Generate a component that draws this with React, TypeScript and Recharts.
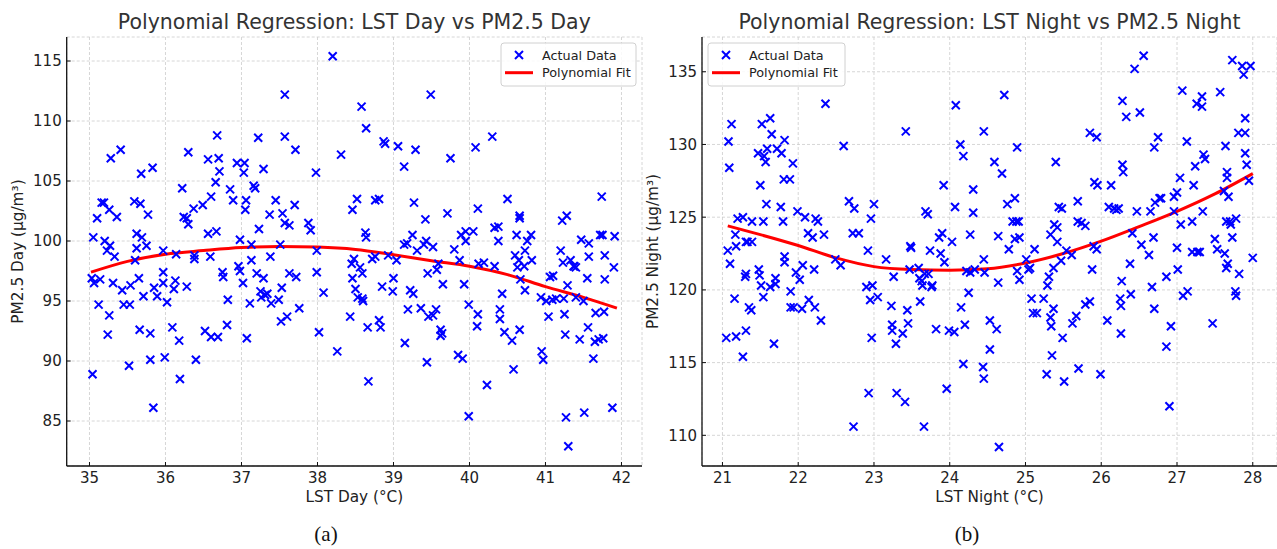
import { ComposedChart, Scatter, Line, XAxis, YAxis, CartesianGrid } from 'recharts';

const FONT = '"DejaVu Sans", Verdana, sans-serif';

// LST Day (°C) vs PM2.5 Day (µg/m³)
const dayPoints: [number, number][] = [
  [35.04, 88.9], [35.05, 100.3], [35.03, 96.9], [35.06, 96.5], [35.1, 101.9], [35.12, 94.7], [35.14, 96.8],
  [35.16, 103.2], [35.19, 103.2], [35.2, 100.0], [35.23, 99.2], [35.24, 92.2], [35.26, 102.6], [35.26, 93.8],
  [35.28, 106.9], [35.27, 99.6], [35.31, 96.5], [35.33, 98.7], [35.36, 102.0], [35.41, 107.6], [35.43, 95.9],
  [35.45, 94.7], [35.52, 89.6], [35.53, 94.7], [35.54, 96.3], [35.59, 103.3], [35.6, 98.4], [35.62, 100.6],
  [35.62, 99.4], [35.65, 96.9], [35.67, 103.1], [35.68, 105.6], [35.66, 92.6], [35.69, 100.3], [35.71, 95.4],
  [35.75, 99.6], [35.77, 102.2], [35.8, 90.1], [35.8, 92.3], [35.83, 106.1], [35.84, 86.1], [35.85, 96.1],
  [35.89, 95.4], [35.97, 97.4], [35.97, 99.2], [35.97, 96.5], [35.99, 90.3], [36.02, 94.9], [36.09, 92.8],
  [36.11, 96.0], [36.13, 96.7], [36.14, 98.9], [36.18, 91.7], [36.19, 88.5], [36.22, 104.4], [36.24, 102.0],
  [36.28, 96.2], [36.28, 101.9], [36.3, 107.4], [36.3, 101.4], [36.37, 102.7], [36.38, 98.5], [36.4, 90.1],
  [36.38, 98.8], [36.49, 103.0], [36.52, 92.5], [36.56, 106.8], [36.56, 100.6], [36.59, 98.7], [36.6, 103.7],
  [36.6, 92.0], [36.66, 104.9], [36.67, 100.8], [36.68, 108.8], [36.69, 92.0], [36.7, 106.9], [36.71, 105.8],
  [36.75, 97.4], [36.76, 97.0], [36.81, 93.0], [36.82, 95.1], [36.85, 104.3], [36.89, 103.4], [36.94, 106.5],
  [36.96, 97.9], [36.98, 100.1], [36.98, 97.5], [37.02, 96.5], [37.03, 105.7], [37.04, 106.5], [37.05, 102.6],
  [37.06, 103.4], [37.07, 91.9], [37.11, 94.8], [37.13, 99.7], [37.13, 98.4], [37.16, 104.6], [37.18, 104.4],
  [37.2, 97.3], [37.22, 108.6], [37.23, 101.0], [37.25, 95.8], [37.26, 95.3], [37.29, 106.0], [37.29, 96.9],
  [37.31, 95.5], [37.34, 95.6], [37.37, 102.2], [37.38, 98.7], [37.39, 94.8], [37.45, 103.4], [37.49, 95.1],
  [37.51, 99.7], [37.52, 93.3], [37.53, 96.1], [37.54, 102.3], [37.57, 112.2], [37.57, 108.7], [37.57, 101.5],
  [37.6, 93.7], [37.63, 101.3], [37.63, 97.3], [37.7, 103.0], [37.71, 107.6], [37.72, 97.0], [37.76, 94.4],
  [37.88, 101.5], [37.91, 100.9], [37.98, 105.7], [37.99, 99.2], [37.99, 97.4], [38.02, 92.4], [38.08, 95.7],
  [38.2, 115.4], [38.26, 90.8], [38.31, 107.2], [38.43, 93.7], [38.45, 98.1], [38.46, 102.6], [38.46, 96.9],
  [38.48, 98.5], [38.5, 96.0], [38.52, 103.5], [38.53, 95.3], [38.56, 97.8], [38.58, 111.2], [38.59, 97.3],
  [38.59, 95.2], [38.6, 95.0], [38.63, 100.7], [38.64, 109.4], [38.64, 100.3], [38.66, 92.8], [38.67, 88.3],
  [38.72, 98.5], [38.76, 103.4], [38.76, 98.7], [38.81, 103.5], [38.81, 93.4], [38.83, 92.8], [38.85, 96.2],
  [38.87, 108.3], [38.89, 108.1], [38.93, 98.8], [38.99, 95.8], [39.0, 96.9], [39.04, 98.4], [39.06, 107.9],
  [39.14, 106.2], [39.15, 91.5], [39.14, 99.7], [39.18, 99.8], [39.19, 94.3], [39.22, 95.9], [39.26, 95.6],
  [39.27, 103.2], [39.25, 100.5], [39.29, 107.6], [39.31, 99.2], [39.36, 94.4], [39.4, 99.7], [39.42, 101.8],
  [39.43, 100.0], [39.44, 89.9], [39.45, 97.3], [39.46, 93.7], [39.49, 112.2], [39.52, 99.5], [39.52, 93.8],
  [39.56, 94.3], [39.57, 97.6], [39.59, 98.1], [39.62, 92.6], [39.62, 92.1], [39.65, 96.4], [39.64, 92.3],
  [39.71, 102.3], [39.75, 106.9], [39.8, 99.3], [39.85, 90.5], [39.87, 98.4], [39.89, 100.5], [39.91, 90.2],
  [39.93, 96.4], [39.95, 100.8], [39.95, 100.0], [39.99, 94.7], [39.99, 85.4], [40.05, 100.8], [40.08, 107.8],
  [40.1, 92.9], [40.11, 102.7], [40.11, 93.9], [40.12, 98.1], [40.19, 98.2], [40.23, 88.0], [40.3, 108.7],
  [40.33, 97.9], [40.33, 101.1], [40.38, 101.2], [40.38, 100.0], [40.4, 94.3], [40.4, 93.5], [40.43, 95.6],
  [40.46, 92.4], [40.5, 103.5], [40.56, 91.7], [40.58, 89.3], [40.6, 98.8], [40.62, 100.5], [40.63, 97.8],
  [40.65, 98.4], [40.66, 102.1], [40.66, 101.9], [40.67, 96.8], [40.66, 92.6], [40.72, 97.9], [40.73, 95.9],
  [40.73, 99.2], [40.76, 100.0], [40.81, 100.5], [40.82, 98.4], [40.94, 95.3], [40.95, 90.8], [40.97, 90.1],
  [41.01, 95.0], [41.04, 93.7], [41.06, 97.0], [41.09, 95.1], [41.1, 97.1], [41.14, 95.2], [41.2, 99.2],
  [41.22, 101.7], [41.23, 98.2], [41.24, 95.2], [41.25, 93.9], [41.26, 92.2], [41.27, 85.3], [41.28, 102.1],
  [41.29, 96.3], [41.3, 82.9], [41.33, 98.4], [41.37, 97.9], [41.38, 97.9], [41.4, 95.3], [41.4, 97.8],
  [41.45, 91.8], [41.47, 100.1], [41.5, 95.0], [41.51, 85.7], [41.55, 96.9], [41.56, 92.8], [41.57, 98.7],
  [41.57, 99.8], [41.63, 90.2], [41.65, 91.6], [41.66, 94.0], [41.7, 91.8], [41.72, 100.5], [41.74, 103.7],
  [41.75, 100.5], [41.76, 91.9], [41.78, 98.8], [41.78, 96.8], [41.77, 94.1], [41.88, 86.1], [41.9, 97.8],
  [41.91, 100.4],
];

// polynomial fit curve, read at half-degree steps
const dayFitX = [35.02, 35.5, 36, 36.5, 37, 37.5, 38, 38.5, 39, 39.5, 40, 40.5, 41, 41.5, 41.94];
const dayFitY = [97.4, 98.3, 98.9, 99.2, 99.45, 99.55, 99.5, 99.3, 98.85, 98.35, 97.9, 97.2, 96.2, 95.3, 94.4];

// LST Night (°C) vs PM2.5 Night (µg/m³)
const nightPoints: [number, number][] = [
  [21.05, 116.7], [21.07, 122.7], [21.08, 130.2], [21.09, 128.4], [21.1, 121.8], [21.12, 131.4], [21.16, 119.4],
  [21.17, 123.8], [21.18, 123.0], [21.18, 116.8], [21.2, 124.9], [21.27, 125.0], [21.27, 115.4], [21.3, 120.9],
  [21.31, 121.1], [21.31, 117.2], [21.31, 123.3], [21.33, 123.3], [21.35, 118.8], [21.38, 118.6], [21.39, 123.3],
  [21.39, 124.7], [21.47, 129.4], [21.48, 121.4], [21.49, 121.0], [21.5, 127.2], [21.51, 120.3], [21.52, 131.4],
  [21.54, 124.7], [21.54, 119.5], [21.55, 129.2], [21.57, 128.8], [21.58, 125.9], [21.59, 129.7], [21.63, 131.8],
  [21.63, 120.2], [21.65, 130.7], [21.68, 116.3], [21.7, 120.8], [21.7, 120.4], [21.72, 129.7], [21.77, 125.7],
  [21.78, 129.4], [21.8, 124.7], [21.81, 127.6], [21.82, 130.3], [21.82, 122.3], [21.82, 121.9], [21.89, 127.6],
  [21.9, 119.9], [21.9, 118.8], [21.94, 118.8], [21.93, 128.7], [21.97, 121.2], [21.99, 125.4], [22.02, 120.7],
  [22.05, 118.7], [22.06, 121.7], [22.09, 125.0], [22.13, 123.9], [22.14, 119.3], [22.19, 123.6], [22.21, 121.4],
  [22.22, 118.8], [22.23, 124.9], [22.26, 124.7], [22.3, 117.9], [22.34, 123.8], [22.36, 132.8], [22.49, 122.1],
  [22.56, 121.7], [22.6, 129.9], [22.67, 126.1], [22.73, 110.6], [22.72, 123.9], [22.74, 125.6], [22.8, 123.9],
  [22.9, 120.2], [22.92, 122.7], [22.93, 112.9], [22.95, 119.3], [22.96, 124.9], [22.97, 116.7], [22.98, 120.3],
  [23.0, 125.9], [23.05, 119.5], [23.16, 122.1], [23.23, 118.9], [23.24, 117.6], [23.24, 117.2], [23.26, 120.9],
  [23.29, 116.3], [23.3, 112.9], [23.38, 117.0], [23.41, 112.3], [23.42, 130.9], [23.44, 118.6], [23.45, 117.7],
  [23.47, 121.4], [23.48, 123.0], [23.49, 122.9], [23.59, 121.5], [23.6, 120.8], [23.61, 119.2], [23.63, 120.6],
  [23.64, 120.3], [23.66, 110.6], [23.67, 121.1], [23.68, 125.4], [23.71, 125.2], [23.72, 121.1], [23.74, 122.7],
  [23.76, 120.2], [23.77, 120.3], [23.82, 117.3], [23.86, 123.6], [23.88, 122.5], [23.9, 123.9], [23.92, 127.2],
  [23.93, 121.9], [23.96, 113.2], [23.99, 117.2], [24.03, 123.3], [24.06, 117.1], [24.07, 125.7], [24.08, 132.7],
  [24.14, 130.0], [24.15, 118.8], [24.18, 129.2], [24.18, 114.9], [24.2, 117.6], [24.22, 121.3], [24.25, 119.8],
  [24.27, 123.8], [24.27, 121.2], [24.31, 126.9], [24.31, 125.3], [24.33, 121.4], [24.44, 114.7], [24.45, 113.9],
  [24.45, 122.1], [24.45, 130.9], [24.46, 121.2], [24.53, 117.9], [24.53, 115.9], [24.59, 128.8], [24.62, 117.3],
  [24.64, 123.7], [24.64, 120.5], [24.65, 109.2], [24.69, 128.0], [24.72, 133.4], [24.76, 125.9], [24.78, 122.8],
  [24.83, 124.7], [24.86, 126.3], [24.86, 123.5], [24.88, 124.7], [24.89, 121.3], [24.89, 129.8], [24.91, 124.7],
  [24.92, 123.6], [24.92, 120.7], [25.01, 122.1], [25.04, 121.4], [25.06, 121.5], [25.08, 119.4], [25.1, 118.4],
  [25.12, 122.8], [25.15, 118.4], [25.24, 119.4], [25.28, 114.2], [25.29, 120.3], [25.31, 120.9], [25.33, 123.8],
  [25.33, 118.1], [25.34, 117.5], [25.35, 115.5], [25.37, 121.5], [25.37, 118.7], [25.38, 124.5], [25.4, 128.8],
  [25.42, 124.3], [25.42, 123.3], [25.44, 125.7], [25.47, 122.0], [25.48, 125.6], [25.49, 116.7], [25.51, 113.7],
  [25.54, 122.7], [25.61, 122.4], [25.62, 117.7], [25.67, 118.2], [25.69, 126.1], [25.69, 124.7], [25.7, 114.6],
  [25.74, 124.6], [25.79, 124.4], [25.79, 119.0], [25.85, 119.2], [25.85, 130.8], [25.88, 121.4], [25.9, 123.0],
  [25.91, 127.4], [25.94, 130.5], [25.94, 122.8], [25.95, 127.2], [25.99, 114.2], [26.08, 117.9], [26.1, 125.7],
  [26.13, 127.2], [26.17, 125.6], [26.2, 125.5], [26.23, 125.6], [26.25, 119.4], [26.26, 118.9], [26.26, 117.0],
  [26.27, 120.6], [26.28, 133.0], [26.28, 128.6], [26.29, 128.1], [26.33, 131.9], [26.38, 121.8], [26.39, 119.7],
  [26.41, 123.9], [26.44, 135.2], [26.47, 125.4], [26.51, 132.2], [26.53, 123.1], [26.56, 136.1], [26.63, 122.4],
  [26.65, 125.4], [26.67, 120.2], [26.7, 129.8], [26.69, 123.6], [26.7, 118.7], [26.71, 126.0], [26.75, 130.5],
  [26.77, 126.3], [26.79, 126.3], [26.86, 116.1], [26.86, 120.9], [26.9, 112.0], [26.92, 117.5], [26.96, 126.4],
  [26.96, 125.4], [27.0, 126.7], [27.0, 122.9], [27.01, 121.4], [27.04, 127.7], [27.05, 124.5], [27.07, 133.7],
  [27.08, 119.6], [27.13, 130.2], [27.14, 119.9], [27.2, 124.7], [27.2, 122.6], [27.22, 127.2], [27.24, 128.5],
  [27.26, 132.8], [27.27, 122.6], [27.3, 122.6], [27.33, 133.3], [27.33, 132.6], [27.34, 125.4], [27.35, 129.3],
  [27.37, 129.0], [27.47, 117.7], [27.5, 123.5], [27.53, 122.8], [27.57, 133.6], [27.62, 126.8], [27.63, 122.5],
  [27.64, 129.9], [27.65, 124.7], [27.65, 121.5], [27.66, 128.1], [27.66, 127.7], [27.67, 121.8], [27.68, 126.4],
  [27.7, 124.7], [27.71, 124.5], [27.73, 135.8], [27.73, 123.6], [27.77, 119.9], [27.78, 119.6], [27.78, 124.9],
  [27.81, 130.8], [27.82, 121.1], [27.86, 135.4], [27.88, 134.8], [27.9, 131.8], [27.9, 130.8], [27.9, 129.4],
  [27.92, 128.6], [27.95, 127.5], [27.97, 135.4], [28.0, 122.2],
];

const nightFitX = [21.07, 21.5, 22, 22.5, 23, 23.5, 24, 24.5, 25, 25.5, 26, 26.5, 27, 27.5, 28.0];
const nightFitY = [124.4, 123.8, 123.05, 122.2, 121.6, 121.4, 121.35, 121.45, 121.85, 122.5, 123.35, 124.35, 125.4, 126.6, 128.0];

const dayTicksX = [35, 36, 37, 38, 39, 40, 41, 42];
const dayTicksY = [85, 90, 95, 100, 105, 110, 115];
const nightTicksX = [21, 22, 23, 24, 25, 26, 27, 28];
const nightTicksY = [110, 115, 120, 125, 130, 135];

const BLUE = '#0000ff';
const RED = '#ff0000';

function Cross(props: any) {
  const { cx, cy } = props;
  if (cx == null || cy == null) return null;
  const r = 4;
  return (
    <path
      d={`M${cx - r},${cy - r}L${cx + r},${cy + r}M${cx - r},${cy + r}L${cx + r},${cy - r}`}
      stroke={BLUE} strokeWidth={2} fill="none"
    />
  );
}

interface PanelProps {
  left: number;
  width: number;
  yAxisWidth: number;
  rightMargin: number;
  points: [number, number][];
  fitX: number[];
  fitY: number[];
  xDomain: [number, number];
  yDomain: [number, number];
  xTicks: number[];
  yTicks: number[];
  title: string;
  xLabel: string;
  yLabel: string;
  caption: string;
  yLabelX: number;
  captionX: number;
  legendX: number;
  legendW: number;
}

const PLOT_TOP = 37;
const PLOT_BOTTOM = 466;
const H = 549;

function Panel(p: PanelProps) {
  const pts = p.points.map(([x, y]) => ({ x, y }));
  const fit = p.fitX.map((x, i) => ({ x, y: p.fitY[i] }));
  const plotL = p.yAxisWidth;
  const plotR = p.width - p.rightMargin;
  const cx = (plotL + plotR) / 2;
  const tick = { fontSize: 15, fill: '#222', fontFamily: FONT };
  const lx = p.legendX;

  return (
    <div style={{ position: 'absolute', left: p.left, top: 0, width: p.width, height: H }}>
      <ComposedChart
        width={p.width} height={H}
        margin={{ top: PLOT_TOP, right: p.rightMargin, left: 0, bottom: H - PLOT_BOTTOM - 40 }}
      >
        <CartesianGrid stroke="#cccccc" strokeWidth={0.8} strokeDasharray="3 2" />
        <XAxis
          type="number" dataKey="x" domain={p.xDomain} ticks={p.xTicks} interval={0}
          allowDataOverflow height={40}
          axisLine={{ stroke: '#111', strokeWidth: 1.3 }}
          tickLine={{ stroke: '#111' }} tickSize={-4} tickMargin={10} tick={tick}
        />
        <YAxis
          type="number" dataKey="y" domain={p.yDomain} ticks={p.yTicks} interval={0}
          allowDataOverflow width={p.yAxisWidth}
          axisLine={{ stroke: '#111', strokeWidth: 1.3 }}
          tickLine={{ stroke: '#111' }} tickSize={-4} tickMargin={9} tick={tick}
        />
        <Scatter data={pts} shape={<Cross />} isAnimationActive={false} />
        <Line data={fit} dataKey="y" type="monotone" stroke={RED} strokeWidth={3}
          dot={false} activeDot={false} isAnimationActive={false} />
      </ComposedChart>
      <svg width={p.width} height={H} style={{ position: 'absolute', left: 0, top: 0, pointerEvents: 'none' }}>
        <text x={cx} y={28.6} textAnchor="middle" fontFamily={FONT} fontSize={20.5} fill="#333">{p.title}</text>
        <text x={cx} y={502} textAnchor="middle" fontFamily={FONT} fontSize={15.3} fill="#222">{p.xLabel}</text>
        <text
          x={p.yLabelX} y={(PLOT_TOP + PLOT_BOTTOM) / 2} textAnchor="middle" fontFamily={FONT} fontSize={15.3} fill="#222"
          transform={`rotate(-90 ${p.yLabelX} ${(PLOT_TOP + PLOT_BOTTOM) / 2})`}
        >{p.yLabel}</text>
        <text x={p.captionX} y={541} textAnchor="middle" fontFamily='"Liberation Serif", "Times New Roman", serif' fontSize={21} fill="#111">{p.caption}</text>
        <g>
          <rect x={lx} y={43} width={p.legendW} height={43} rx={3} fill="#fff" fillOpacity={0.85} stroke="#d0d0d0" strokeWidth={1} />
          <Cross cx={lx + 18} cy={55} />
          <text x={lx + 41} y={59.5} fontFamily={FONT} fontSize={12.8} fill="#222">Actual Data</text>
          <line x1={lx + 4} x2={lx + 32} y1={72.7} y2={72.7} stroke={RED} strokeWidth={3} />
          <text x={lx + 41} y={77.3} fontFamily={FONT} fontSize={12.8} fill="#222">Polynomial Fit</text>
        </g>
      </svg>
    </div>
  );
}

export default function App() {
  return (
    <div style={{ position: 'absolute', left: 0, top: 0, width: 1277, height: H, background: '#fff', overflow: 'hidden' }}>
      <Panel
        left={0} width={645} yAxisWidth={66.7} rightMargin={3}
        points={dayPoints} fitX={dayFitX} fitY={dayFitY}
        xDomain={[34.7, 42.27]} yDomain={[81.25, 117]}
        xTicks={dayTicksX} yTicks={dayTicksY}
        title="Polynomial Regression: LST Day vs PM2.5 Day"
        xLabel="LST Day (°C)" yLabel="PM2.5 Day (µg/m³)" caption="(a)"
        yLabelX={23} captionX={326} legendX={501} legendW={135}
      />
      <Panel
        left={640} width={637} yAxisWidth={62} rightMargin={0}
        points={nightPoints} fitX={nightFitX} fitY={nightFitY}
        xDomain={[20.73, 28.32]} yDomain={[107.89, 137.39]}
        xTicks={nightTicksX} yTicks={nightTicksY}
        title="Polynomial Regression: LST Night vs PM2.5 Night"
        xLabel="LST Night (°C)" yLabel="PM2.5 Night (µg/m³)" caption="(b)"
        yLabelX={18} captionX={327} legendX={68} legendW={137}
      />
    </div>
  );
}
